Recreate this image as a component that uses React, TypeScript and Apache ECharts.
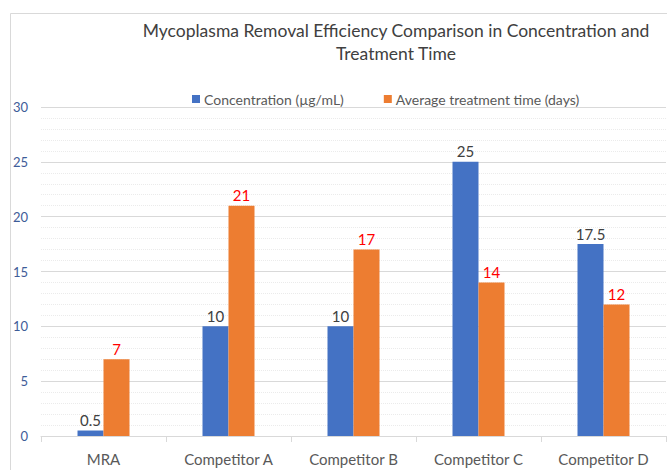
import React, { useEffect, useRef } from "react";
import * as echarts from "echarts";

const categories = ["MRA", "Competitor A", "Competitor B", "Competitor C", "Competitor D"];
const concentration = [0.5, 10, 10, 25, 17.5];
const treatmentTime = [7, 21, 17, 14, 12];
const seriesNames = ["Concentration (µg/mL)", "Average treatment time (days)"];
const titleText = "Mycoplasma Removal Efficiency Comparison in Concentration and\nTreatment Time";

export default function App() {
  const ref = useRef<HTMLDivElement>(null);
  useEffect(() => {
    document.body.style.margin = "0";
    const chart = echarts.init(ref.current!, null, { renderer: "svg" });
    const font = "Lato";
    chart.setOption({
      animation: false,
      backgroundColor: "#ffffff",
      textStyle: { fontFamily: font },
      title: {
        text: titleText,
        left: 391,
        textAlign: "center",
        top: 14,
        textStyle: { fontFamily: font, fontSize: 17.5, fontWeight: "normal", color: "#404040", lineHeight: 23 },
      },
      legend: {
        top: 87,
        left: 187,
        itemWidth: 8,
        itemHeight: 8,
        itemGap: 40,
        icon: "rect",
        textStyle: { fontFamily: font, fontSize: 14, color: "#595959", padding: [0, 0, 0, -1] },
        data: seriesNames,
      },
      graphic: [
        {
          type: "rect",
          shape: { x: 10.5, y: 13.5, width: 700, height: 500 },
          style: { fill: "none", stroke: "#d9d9d9", lineWidth: 1 },
          silent: true,
        },
      ],
      grid: { left: 41, right: 1, top: 107, bottom: 34, containLabel: false },
      xAxis: {
        type: "category",
        data: categories,
        boundaryGap: true,
        axisLine: { show: true, lineStyle: { color: "#d9d9d9" } },
        axisTick: { show: true, length: 6, alignWithLabel: false, lineStyle: { color: "#d9d9d9" } },
        axisLabel: { fontFamily: font, fontSize: 15, color: "#595959", margin: 15 },
      },
      yAxis: {
        type: "value",
        min: 0,
        max: 30,
        interval: 5,
        axisLine: { show: false },
        axisTick: { show: false },
        axisLabel: { fontFamily: font, fontSize: 13, color: "#3e5c98", margin: 13 },
        splitLine: { show: true, lineStyle: { color: "#d9d9d9", width: 1 } },
        minorTick: { show: false, splitNumber: 5 },
        minorSplitLine: { show: true, lineStyle: { color: "#ebebeb", type: "dotted", width: 1 } },
      },
      series: [
        {
          name: seriesNames[0],
          type: "bar",
          data: concentration,
          barWidth: 26,
          barGap: "0%",
          itemStyle: { color: "#4472C4" },
          label: { show: true, position: "top", distance: 3, fontFamily: font, fontSize: 15, color: "#404040" },
        },
        {
          name: seriesNames[1],
          type: "bar",
          data: treatmentTime,
          barWidth: 26,
          barGap: "0%",
          itemStyle: { color: "#ED7D31" },
          label: { show: true, position: "top", distance: 3, fontFamily: font, fontSize: 15, color: "#FF0000" },
        },
      ],
    });
    return () => chart.dispose();
  }, []);
  return <div ref={ref} style={{ width: 667, height: 470 }} />;
}
